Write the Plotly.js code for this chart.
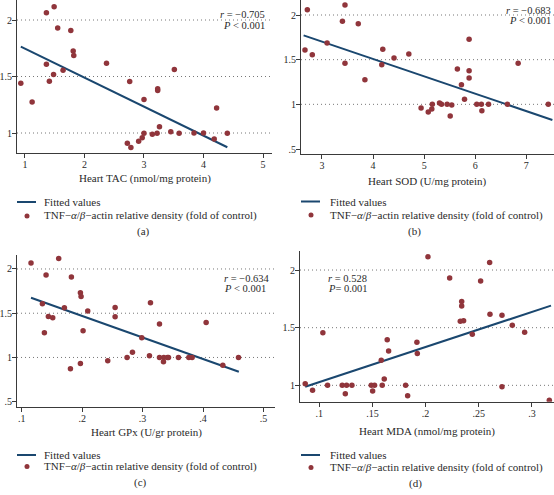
<!DOCTYPE html>
<html>
<head>
<meta charset="utf-8">
<script src="https://cdn.plot.ly/plotly-3.0.1.min.js"></script>
<style>
  html, body { margin: 0; padding: 0; background: #fff; }
  #chart { width: 554px; height: 495px; }
</style>
</head>
<body>
<div id="chart"></div>
<script>
// ---------- DATA ----------
// Panel (a): Heart TAC vs TNF-α/β-actin
const tacX = [0.93,1.12,1.36,1.49,1.55,1.36,1.41,1.48,1.64,1.77,1.81,1.82,2.37,2.76,2.72,2.78,2.91,2.97,3.00,3.00,3.14,3.22,3.23,3.23,3.26,3.45,3.51,3.59,3.84,4.00,4.22,4.18,4.40];
const tacY = [1.441,1.274,2.065,2.118,1.93,1.609,1.459,1.518,1.556,1.906,1.726,1.685,1.618,1.456,0.909,0.871,0.926,0.959,0.997,1.297,0.988,0.997,1.376,1.391,1.056,1.012,1.562,0.997,1.0,1.0,1.221,0.947,0.997];
const tacFitX = [0.93, 4.40];
const tacFitY = [1.765, 0.874];

// Panel (b): Heart SOD
const sodX = [2.667,2.713,2.81,3.10,3.40,3.45,3.45,3.71,3.84,4.17,4.19,4.41,4.70,4.94,5.08,5.15,5.16,5.30,5.34,5.45,5.51,5.54,5.65,5.73,5.79,5.88,5.88,5.88,6.03,6.12,6.13,6.26,6.63,6.84,7.43];
const sodY = [1.608,2.060,1.556,1.687,1.929,2.112,1.459,1.903,1.276,1.444,1.616,1.519,1.563,0.959,0.914,0.948,1.0,1.015,1.0,1.0,0.869,0.993,1.396,1.220,1.056,1.377,1.295,1.728,1.0,1.0,0.929,1.0,1.0,1.459,1.0];
const sodFitX = [2.64, 7.51];
const sodFitY = [1.772, 0.825];

// Panel (c): Heart GPx
const gpxX = [0.1154,0.1403,0.1612,0.1342,0.1441,0.1513,0.1375,0.1706,0.1806,0.1822,0.1971,0.1982,0.1971,0.2015,0.2092,0.2423,0.2545,0.2545,0.2743,0.2832,0.2986,0.3113,0.3130,0.3279,0.3279,0.3345,0.3350,0.3411,0.3428,0.3593,0.3764,0.3819,0.4051,0.4327,0.4586];
const gpxY = [2.067,1.931,2.119,1.607,1.464,1.449,1.279,1.562,0.872,1.908,1.731,1.690,0.932,1.302,1.524,0.962,1.565,1.460,1.0,1.060,1.222,1.019,1.618,1.377,1.0,0.951,1.0,1.0,1.0,1.0,1.0,1.0,1.396,0.913,1.0];
const gpxFitX = [0.1154, 0.4592];
const gpxFitY = [1.675, 0.838];

// Panel (d): Heart MDA
const mdaX = [0.0868,0.0937,0.1034,0.1078,0.1216,0.1245,0.1257,0.1307,0.1489,0.1502,0.1520,0.1583,0.1592,0.1611,0.1639,0.1652,0.1812,0.1831,0.1918,0.1922,0.2022,0.2226,0.2326,0.2339,0.2339,0.2357,0.2439,0.2517,0.2602,0.2605,0.2718,0.2718,0.2815,0.2931,0.3163];
const mdaY = [1.014,0.957,1.457,1.0,1.0,0.928,1.0,1.0,1.0,0.951,1.0,1.217,1.0,1.055,1.396,1.298,1.0,0.910,1.373,1.275,2.116,1.931,1.555,1.728,1.688,1.561,1.442,1.905,2.066,1.616,1.607,0.988,1.520,1.460,0.870];
const mdaFitX = [0.0868, 0.3179];
const mdaFitY = [0.988, 1.691];

// Tick labels
const tacTicks = [1,2,3,4,5];          const tacTickText = ['1','2','3','4','5'];
const sodTicks = [3,4,5,6,7];          const sodTickText = ['3','4','5','6','7'];
const gpxTicks = [0.1,0.2,0.3,0.4,0.5]; const gpxTickText = ['.1','.2','.3','.4','.5'];
const mdaTicks = [0.1,0.15,0.2,0.25,0.3]; const mdaTickText = ['.1','.15','.2','.25','.3'];
const yTicksA = [1,1.5,2];      const yTickTextA = ['1','1.5','2'];
const yTicksB = [0.5,1,1.5,2];  const yTickTextB = ['.5','1','1.5','2'];
const gridVals = [1,1.5,2];

// Texts
const xTitles = ['Heart TAC (nmol/mg protein)','Heart SOD (U/mg protein)','Heart GPx (U/gr protein)','Heart MDA (nmol/mg protein)'];
const rTexts = ['<i>r</i> = −0.705','<i>r</i> = −0.683','<i>r</i> = −0.634','<i>r</i> = 0.528'];
const pTexts = ['<i>P</i> < 0.001','<i>P</i> < 0.001','<i>P</i> < 0.001','<i>P</i>= 0.001'];
const panelLabels = ['(a)','(b)','(c)','(d)'];
const legendFit = 'Fitted values';
const legendPts = 'TNF−<i>α</i>/<i>β</i>−actin relative density (fold of control)';

// ---------- STYLE / LAYOUT ----------
const W = 554, H = 495;
const px = v => v / W;
const py = v => 1 - v / H;
const NAVY = '#1a476f', MAROON = '#90353b', TXT = '#2a2a2a', AX = '#3a3a3a';
const FONT = 'Liberation Serif, Times New Roman, serif';

const panels = [
  {xs:tacX, ys:tacY, fx:tacFitX, fy:tacFitY, xd:[17,272], yd:[0,153], xr:[0.866,5.151], yr:[0.823,2.177], xt:tacTicks, xtt:tacTickText, yt:yTicksA, ytt:yTickTextA},
  {xs:sodX, ys:sodY, fx:sodFitX, fy:sodFitY, xd:[301,554], yd:[0,154], xr:[2.589,7.542], yr:[0.444,2.168], xt:sodTicks, xtt:sodTickText, yt:yTicksB, ytt:yTickTextB},
  {xs:gpxX, ys:gpxY, fx:gpxFitX, fy:gpxFitY, xd:[17,275], yd:[255,406.7], xr:[0.0922,0.519], yr:[0.4435,2.158], xt:gpxTicks, xtt:gpxTickText, yt:yTicksB, ytt:yTickTextB},
  {xs:mdaX, ys:mdaY, fx:mdaFitX, fy:mdaFitY, xd:[300,554], yd:[251,401.7], xr:[0.0819,0.3207], yr:[0.858,2.165], xt:mdaTicks, xtt:mdaTickText, yt:yTicksA, ytt:yTickTextA}
];

// legend/labels pixel positions per panel
const textPos = [
  {stat:{x:267, y1:15, y2:25.5, anchor:'right'}, title:178, leg:{l0:17,l1:36,dot:27,tx:42,y1:202,y2:216}, lab:{x:143,y:231}},
  {stat:{x:553, y1:10, y2:20.5, anchor:'right'}, title:182, leg:{l0:301,l1:320,dot:311,tx:328,y1:201.5,y2:215}, lab:{x:414,y:231.5}},
  {stat:{x:222, y1:278, y2:288, anchor:'left'}, title:432, leg:{l0:17,l1:36,dot:27,tx:42,y1:455,y2:466.5}, lab:{x:140,y:482}},
  {stat:{x:326, y1:278, y2:288, anchor:'left'}, title:431, leg:{l0:301,l1:320,dot:311,tx:328,y1:455,y2:467.5}, lab:{x:415,y:483}}
];

const data = [];
const layout = {
  width: W, height: H,
  margin: {l:0, r:0, t:0, b:0},
  paper_bgcolor: '#ffffff', plot_bgcolor: '#ffffff',
  font: {family: FONT, size: 11, color: TXT},
  showlegend: false,
  shapes: [], annotations: []
};

panels.forEach((p, i) => {
  const n = i === 0 ? '' : String(i + 1);
  const xa = 'x' + n, ya = 'y' + n;
  data.push({
    type: 'scatter', mode: 'lines', x: p.fx, y: p.fy, xaxis: xa, yaxis: ya,
    name: legendFit, line: {color: NAVY, width: 2}, hoverinfo: 'skip'
  });
  data.push({
    type: 'scatter', mode: 'markers', x: p.xs, y: p.ys, xaxis: xa, yaxis: ya,
    name: 'TNF-α/β-actin relative density (fold of control)',
    marker: {color: MAROON, size: 5.5, line: {width: 0}}
  });
  const axCommon = {
    showline: true, linecolor: AX, linewidth: 1, mirror: false,
    ticks: 'outside', ticklen: 4, tickwidth: 1, tickcolor: AX,
    showgrid: false, zeroline: false, tickmode: 'array',
    tickfont: {family: FONT, size: 10, color: TXT}, fixedrange: true,
    ticklabelstandoff: -2
  };
  layout['xaxis' + n] = Object.assign({}, axCommon, {
    domain: [px(p.xd[0]), px(p.xd[1])], range: p.xr, anchor: ya,
    tickvals: p.xt, ticktext: p.xtt
  });
  layout['yaxis' + n] = Object.assign({}, axCommon, {
    domain: [py(p.yd[1]), py(p.yd[0])], range: p.yr, anchor: xa,
    tickvals: p.yt, ticktext: p.ytt
  });
  // dotted gridlines at values (not at min tick)
  gridVals.forEach(g => {
    layout.shapes.push({type:'line', xref: xa + ' domain', yref: ya, x0:0, x1:1, y0:g, y1:g,
      line:{color:'#777777', width:1, dash:'1px,3px'}, layer:'below'});
  });
  const t = textPos[i];
  // stats
  layout.annotations.push({xref:'paper', yref:'paper', x:px(t.stat.x), y:py(t.stat.y1), text:rTexts[i],
    showarrow:false, xanchor:t.stat.anchor, yanchor:'middle', font:{size:10.5, color:TXT}});
  layout.annotations.push({xref:'paper', yref:'paper', x:px(t.stat.x), y:py(t.stat.y2), text:pTexts[i],
    showarrow:false, xanchor:t.stat.anchor, yanchor:'middle', font:{size:10.5, color:TXT}});
  // x title
  layout.annotations.push({xref:'paper', yref:'paper', x:px((p.xd[0]+p.xd[1])/2), y:py(t.title), text:xTitles[i],
    showarrow:false, xanchor:'center', yanchor:'middle', font:{size:11, color:TXT}});
  // legend (drawn as key + text)
  layout.shapes.push({type:'line', xref:'paper', yref:'paper', x0:px(t.leg.l0), x1:px(t.leg.l1), y0:py(t.leg.y1), y1:py(t.leg.y1),
    line:{color:NAVY, width:2}});
  layout.shapes.push({type:'circle', xref:'paper', yref:'paper', x0:px(t.leg.dot-2.5), x1:px(t.leg.dot+2.5), y0:py(t.leg.y2+2.5), y1:py(t.leg.y2-2.5),
    fillcolor:MAROON, line:{width:0}});
  layout.annotations.push({xref:'paper', yref:'paper', x:px(t.leg.tx), y:py(t.leg.y1), text:legendFit,
    showarrow:false, xanchor:'left', yanchor:'middle', font:{size:11, color:TXT}});
  layout.annotations.push({xref:'paper', yref:'paper', x:px(t.leg.tx), y:py(t.leg.y2), text:legendPts,
    showarrow:false, xanchor:'left', yanchor:'middle', font:{size:11, color:TXT}});
  // panel label
  layout.annotations.push({xref:'paper', yref:'paper', x:px(t.lab.x), y:py(t.lab.y), text:panelLabels[i],
    showarrow:false, xanchor:'center', yanchor:'middle', font:{size:11, color:TXT}});
});

Plotly.newPlot('chart', data, layout, {staticPlot: true, displayModeBar: false});
</script>
</body>
</html>
